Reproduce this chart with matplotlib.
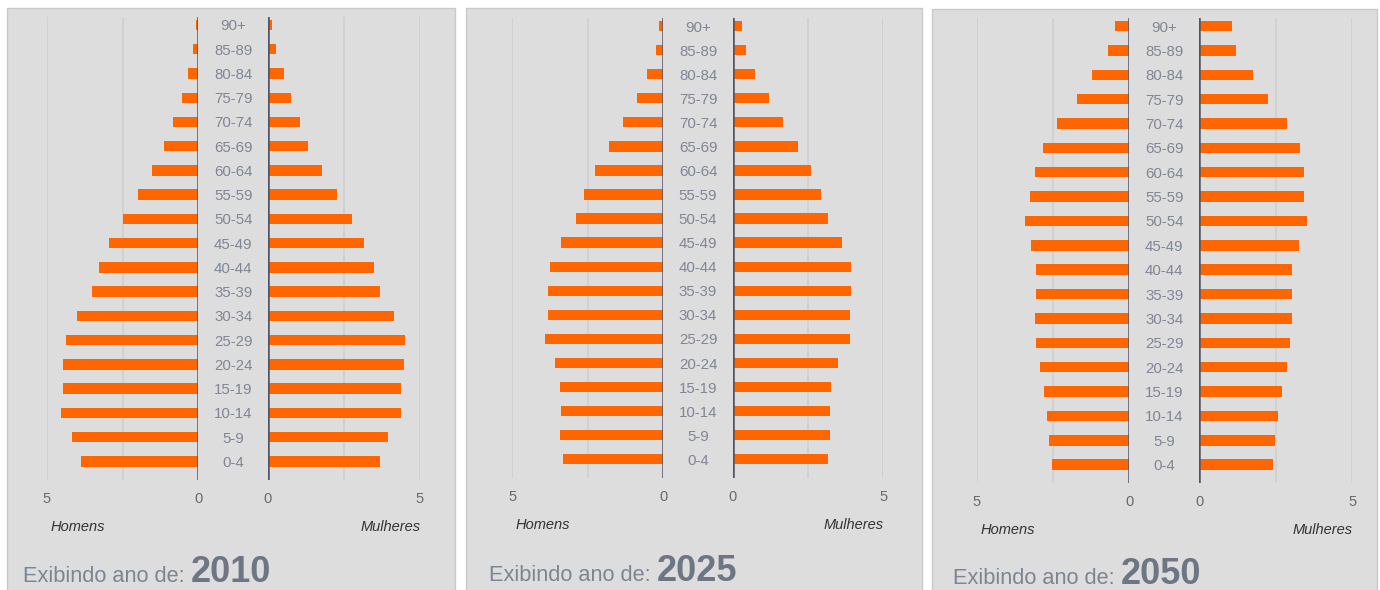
import matplotlib
matplotlib.use("Agg")
import matplotlib.pyplot as plt
from matplotlib.patches import Rectangle

plt.rcParams['font.family'] = ['Liberation Sans', 'DejaVu Sans']

age_groups = ["0-4", "5-9", "10-14", "15-19", "20-24", "25-29", "30-34", "35-39",
              "40-44", "45-49", "50-54", "55-59", "60-64", "65-69", "70-74",
              "75-79", "80-84", "85-89", "90+"]

years = ["2010", "2025", "2050"]

# values listed from 0-4 up to 90+
men_2010 = [3.87, 4.15, 4.53, 4.46, 4.46, 4.36, 4.00, 3.51, 3.29, 2.94,
            2.48, 1.98, 1.54, 1.13, 0.82, 0.55, 0.33, 0.16, 0.07]
women_2010 = [3.68, 3.96, 4.36, 4.36, 4.46, 4.51, 4.13, 3.68, 3.48, 3.16,
              2.75, 2.26, 1.77, 1.33, 1.05, 0.75, 0.53, 0.26, 0.12]

men_2025 = [3.33, 3.42, 3.38, 3.42, 3.60, 3.91, 3.82, 3.82, 3.74, 3.38,
            2.88, 2.62, 2.25, 1.81, 1.32, 0.88, 0.53, 0.25, 0.13]
women_2025 = [3.16, 3.23, 3.23, 3.28, 3.51, 3.88, 3.88, 3.92, 3.92, 3.62,
              3.16, 2.92, 2.61, 2.16, 1.67, 1.19, 0.74, 0.43, 0.30]

men_2050 = [2.52, 2.62, 2.70, 2.79, 2.93, 3.07, 3.10, 3.07, 3.07, 3.21,
            3.42, 3.24, 3.10, 2.83, 2.36, 1.71, 1.23, 0.69, 0.47]
women_2050 = [2.40, 2.48, 2.58, 2.71, 2.85, 2.97, 3.02, 3.02, 3.02, 3.26,
              3.51, 3.43, 3.43, 3.29, 2.85, 2.25, 1.76, 1.19, 1.06]

men_data = [men_2010, men_2025, men_2050]
women_data = [women_2010, women_2025, women_2050]

W, H = 1380, 590
fig = plt.figure(figsize=(W / 100, H / 100), dpi=100)
fig.patch.set_facecolor("white")

BG = "#dddddd"
ORANGE = "#ff6600"
AXLINE = "#4f5466"
GRID = "#cfcfcf"
LABEL = "#808694"


def rect(x0, y0, x1, y1):
    return [x0 / W, 1 - y1 / H, (x1 - x0) / W, (y1 - y0) / H]


# panel geometry (pixels, y from top)
panels = [
    dict(bg=(7, 8, 455, 592), L=(46.7, 198.3), R=(268, 420), top=17, bot=480,
         first=461.3, last=25, tick_y=497.7, lab_y=527, ex_x=22.7, ex_y=582.5),
    dict(bg=(466, 8, 922, 592), L=(512.3, 663.3), R=(732.7, 883.3), top=18, bot=478,
         first=459.3, last=26, tick_y=496, lab_y=525, ex_x=489.3, ex_y=581),
    dict(bg=(931.7, 9, 1377, 592), L=(976.7, 1129.3), R=(1199.3, 1352.3), top=18, bot=483,
         first=464.7, last=26, tick_y=501, lab_y=530, ex_x=952.7, ex_y=584.5),
]

n = len(age_groups)
ypos = list(range(n))
bar_h = 0.43

for p, year, men, women in zip(panels, years, men_data, women_data):
    bx0, by0, bx1, by1 = p["bg"]
    fig.patches.append(Rectangle((bx0 / W, 1 - by1 / H), (bx1 - bx0) / W, (by1 - by0) / H,
                                 transform=fig.transFigure, facecolor=BG,
                                 edgecolor="#c9c9c9", linewidth=1.0, zorder=-5))
    step = (p["first"] - p["last"]) / (n - 1)
    ylo = -(p["bot"] - p["first"]) / step
    yhi = (n - 1) + (p["last"] - p["top"]) / step

    for side in ("L", "R"):
        x0, x1 = p[side]
        ax = fig.add_axes(rect(x0, p["top"], x1, p["bot"]))
        ax.set_zorder(2)
        ax.patch.set_visible(False)
        vals = men if side == "L" else women
        ax.barh(ypos, vals, height=bar_h, color=ORANGE, zorder=3)
        if side == "L":
            ax.set_xlim(5, 0)
        else:
            ax.set_xlim(0, 5)
        ax.set_ylim(ylo, yhi)
        for g in (2.5, 5):
            ax.axvline(g, color=GRID, lw=1.2, zorder=1)
        ax.axvline(0, color=AXLINE, lw=1.8, zorder=4)
        for s in ax.spines.values():
            s.set_visible(False)
        ax.set_yticks([])
        ax.set_xticks([5, 0])
        ax.set_xticklabels(["5", "0"], fontsize=10.5, color="#666a70")
        ax.tick_params(axis="x", length=0, pad=8.5)

    # age labels in the middle
    xc = (p["L"][1] + p["R"][0]) / 2
    for i, lab in enumerate(age_groups):
        yy = p["first"] - i * step
        fig.text(xc / W, 1 - (yy + 1.5) / H, lab, ha="center", va="center",
                 fontsize=10.8, color=LABEL)

    fig.text((p["L"][0] + 3.5) / W, 1 - p["lab_y"] / H, "Homens", ha="left", va="center",
             fontsize=10.5, style="italic", color="#333333")
    fig.text((p["R"][1] + 0.5) / W, 1 - p["lab_y"] / H, "Mulheres", ha="right", va="center",
             fontsize=10.5, style="italic", color="#333333")

    t = fig.text(p["ex_x"] / W, 1 - p["ex_y"] / H, "Exibindo ano de: ", ha="left",
                 va="baseline", fontsize=15.7, color="#7d8592")
    fig.canvas.draw()
    bb = t.get_window_extent()
    fig.text(bb.x1 / W, 1 - p["ex_y"] / H, year, ha="left", va="baseline",
             fontsize=26, fontweight="bold", color="#6d7684")

fig.savefig("out.png", dpi=100, facecolor="white")
